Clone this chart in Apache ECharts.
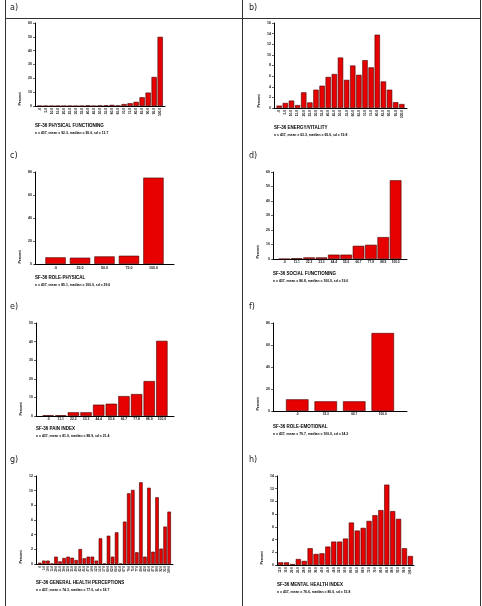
<!DOCTYPE html>
<html><head><meta charset="utf-8">
<script src="https://cdn.jsdelivr.net/npm/echarts@6/dist/echarts.min.js"></script>
<style>html,body{margin:0;padding:0;background:#fff}#c{width:482px;height:606px}</style>
</head><body><div id="c"></div>
<script>
// ---------- data ----------
const cats21 = ['.0','5.0','10.0','15.0','20.0','25.0','30.0','35.0','40.0','45.0','50.0','55.0','60.0','65.0','70.0','75.0','80.0','85.0','90.0','95.0','100.0'];
const catsA = cats21;
const valsA = [0,0,0,0,0,0,0,0,0.4,0,0.3,0.5,0.8,0.3,1.4,2.0,3.0,6.3,9.7,21.0,50.0];
const catsB = cats21;
const valsB = [0.45,0.95,1.4,0.55,2.95,1.05,3.45,4.2,5.85,6.4,9.5,5.3,8.0,6.25,9.0,7.65,13.8,5.0,3.45,1.1,0.75];
const catsC = ['.0','25.0','50.0','75.0','100.0'];
const valsC = [5.8,5.5,6.6,7.2,75.1];
const catsD = ['.0','11.1','22.2','33.3','44.4','55.6','66.7','77.8','88.9','100.0'];
const valsD = [0,0.5,1.1,1.1,3.0,3.0,9.1,9.8,15.1,54.3];
const catsE = ['.0','11.1','22.2','33.3','44.4','55.6','66.7','77.8','88.9','100.0'];
const valsE = [0.4,0.4,2.0,2.0,6.1,6.6,10.7,11.8,18.8,40.4];
const catsF = ['.0','33.3','66.7','100.0'];
const valsF = [10.6,8.8,8.8,70.9];
const catsG = ['.0','5.0','10.0','15.0','20.0','25.0','30.0','32.0','35.0','40.0','42.0','45.0','47.0','50.0','52.0','55.0','57.0','60.0','62.0','64.0','65.0','67.0','70.0','75.0','77.0','80.0','82.0','85.0','87.0','90.0','92.0','95.0','100.0'];
const valsG = [0.18,0.46,0.46,0.05,1.0,0.36,0.82,1.0,0.86,0.54,2.04,0.78,1.0,1.0,0.46,3.5,0.05,3.86,1.0,4.32,0.05,5.78,9.64,10.1,1.6,11.14,1.0,10.4,1.68,9.1,2.1,5.1,7.14];
const catsH = ['12.0','16.0','20.0','24.0','28.0','32.0','36.0','40.0','44.0','48.0','52.0','56.0','60.0','64.0','68.0','72.0','76.0','80.0','84.0','88.0','92.0','96.0','100.0'];
const valsH = [0.42,0.42,0.16,0.94,0.64,2.64,1.74,1.84,2.9,3.68,3.68,4.16,6.68,5.42,5.84,6.94,7.84,8.64,12.64,8.48,7.26,2.64,1.42];
const yTicksA = [0,60,10], yTicksB = [0,16,2], yTicksC = [0,80,20], yTicksD = [0,60,10];
const yTicksE = [0,50,10], yTicksF = [0,80,20], yTicksG = [0,12,2], yTicksH = [0,14,2];
const titles = ['SF-36 PHYSICAL FUNCTIONING','SF-36 ENERGY/VITALITY','SF-36 ROLE-PHYSICAL','SF-36 SOCIAL FUNCTIONING','SF-36 PAIN INDEX','SF-36 ROLE-EMOTIONAL','SF-36 GENERAL HEALTH PERCEPTIONS','SF-36 MENTAL HEALTH INDEX'];
const subtitles = [
 'n = 437, mean = 92.3, median = 95.0, sd = 13.7',
 'n = 437, mean = 63.3, median = 65.0, sd = 19.8',
 'n = 437, mean = 85.1, median = 100.0, sd = 29.6',
 'n = 437, mean = 86.8, median = 100.0, sd = 19.0',
 'n = 437, mean = 81.0, median = 88.9, sd = 21.4',
 'n = 437, mean = 79.7, median = 100.0, sd = 34.3',
 'n = 437, mean = 74.3, median = 77.0, sd = 18.7',
 'n = 437, mean = 76.6, median = 80.0, sd = 15.8'];
const panelLabels = ['a)','b)','c)','d)','e)','f)','g)','h)'];

// ---------- layout ----------
const layout = [
 {cats:catsA, vals:valsA, y:yTicksA, g:[35,23,130,83],  pad:0.3,  bw:0.88, rot:90, xfs:3.2, ty:126, lx:10,  ly:8},
 {cats:catsB, vals:valsB, y:yTicksB, g:[274,23,133,85], pad:0.35, bw:0.88, rot:90, xfs:3.2, ty:128, lx:249, ly:8},
 {cats:catsC, vals:valsC, y:yTicksC, g:[35,172,139,92], pad:0.34, bw:0.83, rot:0,  xfs:3.6, ty:278, lx:10,  ly:156},
 {cats:catsD, vals:valsD, y:yTicksD, g:[273,172,134,87],pad:0.42, bw:0.94, rot:0,  xfs:3.2, ty:274, lx:249, ly:156},
 {cats:catsE, vals:valsE, y:yTicksE, g:[36,323,138,93], pad:0.46, bw:0.9,  rot:0,  xfs:3.4, ty:429, lx:10,  ly:307},
 {cats:catsF, vals:valsF, y:yTicksF, g:[273,323,134,88],pad:0.35, bw:0.79, rot:0,  xfs:3.2, ty:427, lx:249, ly:307},
 {cats:catsG, vals:valsG, y:yTicksG, g:[36,476,137,88], pad:0.45, bw:0.88, rot:90, xfs:2.8, ty:583, lx:10,  ly:460},
 {cats:catsH, vals:valsH, y:yTicksH, g:[277,476,137,89],pad:0.12, bw:0.88, rot:90, xfs:3.0, ty:585, lx:249, ly:460}
];
const FONT = '"Liberation Sans", Arial, sans-serif';
const grid=[], xAxis=[], yAxis=[], series=[], title=[], graphic=[];
layout.forEach((p,i)=>{
  const [L,T,W,H] = p.g;
  const n = p.cats.length;
  const min = -0.5 - p.pad, max = n - 0.5 + p.pad;
  const band = W/(max-min);
  grid.push({left:L, top:T, width:W, height:H, containLabel:false});
  xAxis.push({type:'value', gridIndex:i, min:min, max:max,
    axisLine:{show:true, onZero:false, lineStyle:{color:'#000', width:1}},
    axisTick:{show:false}, splitLine:{show:false},
    axisLabel:{customValues:p.cats.map((c,j)=>j), formatter:v=>p.cats[Math.round(v)],
      rotate:p.rot, fontSize:p.xfs, fontFamily:FONT, fontWeight:'bold', color:'#111', margin:2, hideOverlap:false}});
  yAxis.push({type:'value', gridIndex:i, min:p.y[0], max:p.y[1], interval:p.y[2],
    axisLine:{show:true, onZero:false, lineStyle:{color:'#000', width:1}},
    axisTick:{show:true, length:2, lineStyle:{color:'#000', width:0.6}}, splitLine:{show:false},
    axisLabel:{fontSize:3.5, fontFamily:FONT, fontWeight:'bold', color:'#111', margin:3}});
  series.push({type:'bar', xAxisIndex:i, yAxisIndex:i, barWidth:band*p.bw,
    data:p.vals.map((v,j)=>[j,v]),
    itemStyle:{color:'#e60000', borderColor:'#4a0000', borderWidth:0.6}, silent:true, animation:false});
  title.push({text:titles[i], left:L, top:p.ty-2.3, padding:0,
    textStyle:{fontSize:4.5, fontWeight:'bold', fontFamily:FONT, color:'#000'}});
  title.push({text:subtitles[i], left:L, top:p.ty+5.5, padding:0,
    textStyle:{fontSize:3.4, fontWeight:'bold', fontFamily:FONT, color:'#000'}});
  graphic.push({type:'text', x:L-15, y:T+H-7, rotation:Math.PI/2,
    style:{text:'Percent', fontSize:3.6, fontWeight:'bold', fontFamily:FONT, fill:'#000', align:'center', verticalAlign:'middle'}});
  graphic.push({type:'text', x:p.lx, y:p.ly, style:{text:panelLabels[i], fontSize:8, fontFamily:'"DejaVu Sans", sans-serif', fill:'#222', align:'left', verticalAlign:'middle'}});
});
// table frame
const frame = {stroke:'#333', lineWidth:1};
graphic.push({type:'line', shape:{x1:5.5,y1:0,x2:5.5,y2:606}, style:frame});
graphic.push({type:'line', shape:{x1:242.5,y1:0,x2:242.5,y2:606}, style:frame});
graphic.push({type:'line', shape:{x1:480.5,y1:0,x2:480.5,y2:606}, style:frame});
graphic.push({type:'line', shape:{x1:5.5,y1:18.5,x2:480.5,y2:18.5}, style:frame});

const chart = echarts.init(document.getElementById('c'), null, {renderer:'canvas'});
chart.setOption({animation:false, backgroundColor:'#fff', grid, xAxis, yAxis, series, title, graphic});
</script></body></html>
